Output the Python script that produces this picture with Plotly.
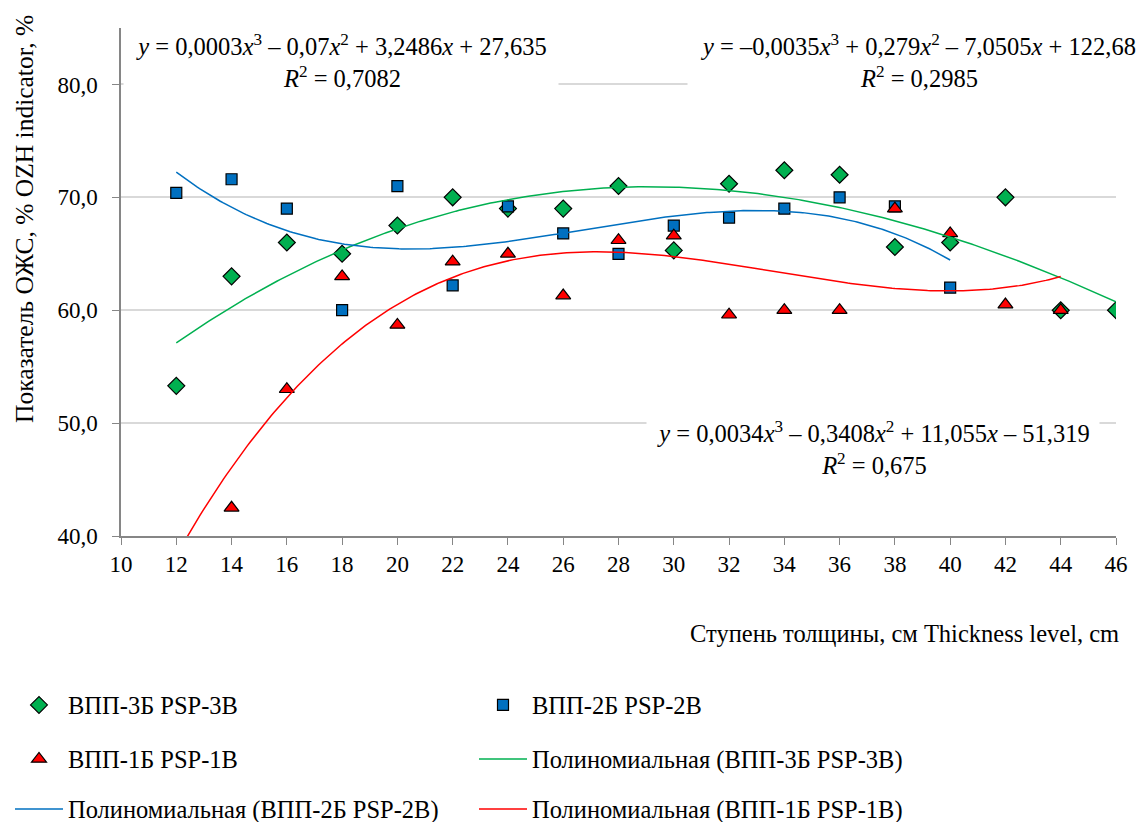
import numpy as np
import plotly.graph_objects as go

# ---- data ----
x_3b = [12, 14, 16, 18, 20, 22, 24, 26, 28, 30, 32, 34, 36, 38, 40, 42, 44, 46]
y_3b = [53.3, 63.0, 66.0, 65.0, 67.5, 70.0, 69.0, 69.0, 71.0, 65.3, 71.2, 72.4, 72.0, 65.6, 66.0, 70.0, 60.0, 60.0]

x_2b = [12, 14, 16, 18, 20, 22, 24, 26, 28, 30, 32, 34, 36, 38, 40]
y_2b = [70.4, 71.6, 69.0, 60.0, 71.0, 62.2, 69.2, 66.8, 65.0, 67.5, 68.2, 69.0, 70.0, 69.2, 62.0]

# first value (x=12) lies below the axis minimum and is not visible
x_1b = [12, 14, 16, 18, 20, 22, 24, 26, 28, 30, 32, 34, 36, 38, 40, 42, 44]
y_1b = [38.4, 42.5, 53.0, 63.0, 58.7, 64.3, 65.0, 61.3, 66.2, 66.6, 59.6, 60.0, 60.0, 69.0, 66.8, 60.5, 60.0]

x_ticks = list(range(10, 47, 2))
y_ticks = [40, 50, 60, 70, 80]

names = ["ВПП-3Б PSP-3B", "ВПП-2Б PSP-2B", "ВПП-1Б PSP-1B"]
trend_names = ["Полиномиальная (ВПП-3Б PSP-3B)", "Полиномиальная (ВПП-2Б PSP-2B)", "Полиномиальная (ВПП-1Б PSP-1B)"]
eq_3b = "<i>y</i> = 0,0003<i>x</i><sup>3</sup> – 0,07<i>x</i><sup>2</sup> + 3,2486<i>x</i> + 27,635<br><i>R</i><sup>2</sup> = 0,7082"
eq_2b = "<i>y</i> = –0,0035<i>x</i><sup>3</sup> + 0,279<i>x</i><sup>2</sup> – 7,0505<i>x</i> + 122,68<br><i>R</i><sup>2</sup> = 0,2985"
eq_1b = "<i>y</i> = 0,0034<i>x</i><sup>3</sup> – 0,3408<i>x</i><sup>2</sup> + 11,055<i>x</i> – 51,319<br><i>R</i><sup>2</sup> = 0,675"
x_title = "Ступень толщины, см Thickness level, cm"
y_title = "Показатель ОЖС, % OZH indicator, %"

GREEN = "#00B050"
BLUE = "#0070C0"
RED = "#FF0000"
FONT = "Liberation Serif"


def trend(xs, ys):
    c = np.polyfit(xs, ys, 3)
    xs_line = np.linspace(min(xs), max(xs), 300)
    return xs_line, np.polyval(c, xs_line)


fig = go.Figure()
fig.add_trace(go.Scatter(x=x_3b, y=y_3b, mode="markers", name=names[0], legend="legend",
                         marker=dict(symbol="diamond", size=13, color=GREEN, line=dict(color="black", width=1.2))))
fig.add_trace(go.Scatter(x=x_2b, y=y_2b, mode="markers", name=names[1], legend="legend",
                         marker=dict(symbol="square", size=11, color=BLUE, line=dict(color="black", width=1.2))))
fig.add_trace(go.Scatter(x=x_1b, y=y_1b, mode="markers", name=names[2], legend="legend2",
                         marker=dict(symbol="triangle-up", size=13, color=RED, line=dict(color="black", width=1.2))))
tx, ty = trend(x_3b, y_3b)
fig.add_trace(go.Scatter(x=tx, y=ty, mode="lines", name=trend_names[0], legend="legend2", line=dict(color=GREEN, width=1.5)))
tx, ty = trend(x_2b, y_2b)
fig.add_trace(go.Scatter(x=tx, y=ty, mode="lines", name=trend_names[1], legend="legend3", line=dict(color=BLUE, width=1.5)))
tx, ty = trend(x_1b, y_1b)
fig.add_trace(go.Scatter(x=tx, y=ty, mode="lines", name=trend_names[2], legend="legend3", line=dict(color=RED, width=1.5)))

W, H = 1137, 822
L, R, T, B_ = 121, 21, 28, 286
PW, PH = W - L - R, H - T - B_


def px(xp):
    return (xp - L) / PW


def py(yp):
    return (H - B_ - yp) / PH


def cx(xp):
    return xp / W


def cy(yp):
    return 1 - yp / H


TXT = 24.5
legend_common = dict(orientation="h", font=dict(family=FONT, size=TXT, color="black"),
                     itemwidth=48, entrywidth=401, xanchor="left", yanchor="middle",
                     xref="container", yref="container",
                     bgcolor="rgba(0,0,0,0)", traceorder="normal")
fig.update_layout(
    width=W, height=H,
    margin=dict(l=L, r=R, t=T, b=B_, autoexpand=False),
    paper_bgcolor="white", plot_bgcolor="white",
    separators=", ",
    font=dict(family=FONT, size=TXT, color="black"),
    showlegend=True,
    legend=dict(x=cx(10), y=cy(705), **legend_common),
    legend2=dict(x=cx(10), y=cy(759), **legend_common),
    legend3=dict(x=cx(10), y=cy(809), **legend_common),
    xaxis=dict(range=[10, 46], tickmode="array", tickvals=x_ticks, showgrid=False,
               showline=True, linecolor="#868686", linewidth=1.5, ticks="outside", ticklen=7,
               tickcolor="#868686", tickfont=dict(family=FONT, size=23, color="black"), zeroline=False),
    yaxis=dict(range=[40, 85], tickmode="array", tickvals=y_ticks, tickformat=".1f", showgrid=True,
               gridcolor="#d9d9d9", gridwidth=1.5, showline=True, linecolor="#868686", linewidth=1.5,
               ticks="outside", ticklen=7, tickcolor="#868686", ticklabelstandoff=10,
               tickfont=dict(family=FONT, size=23, color="black"), zeroline=False),
)

ann_font = dict(family=FONT, size=TXT, color="black")
fig.add_annotation(text=eq_3b, xref="paper", yref="paper", x=px(341), y=py(61), xanchor="center", yanchor="middle",
                   showarrow=False, bgcolor="white", width=432, height=62, font=ann_font, align="center")
fig.add_annotation(text=eq_2b, xref="paper", yref="paper", x=px(918), y=py(61), xanchor="center", yanchor="middle",
                   showarrow=False, bgcolor="white", width=458, height=62, font=ann_font, align="center")
fig.add_annotation(text=eq_1b, xref="paper", yref="paper", x=px(873), y=py(448), xanchor="center", yanchor="middle",
                   showarrow=False, bgcolor="white", width=450, height=60, font=ann_font, align="center")
fig.add_annotation(text=x_title, xref="paper", yref="paper",
                   x=px(1121), y=py(633), xanchor="right", yanchor="middle", showarrow=False, font=ann_font)
fig.add_annotation(text=y_title, xref="paper", yref="paper",
                   x=px(24), y=py(219), xanchor="center", yanchor="middle", textangle=-90, showarrow=False,
                   font=dict(family=FONT, size=25.5, color="black"))

fig.write_html("out.html", config={"displayModeBar": False},
               post_script="document.body.style.margin='0';")
